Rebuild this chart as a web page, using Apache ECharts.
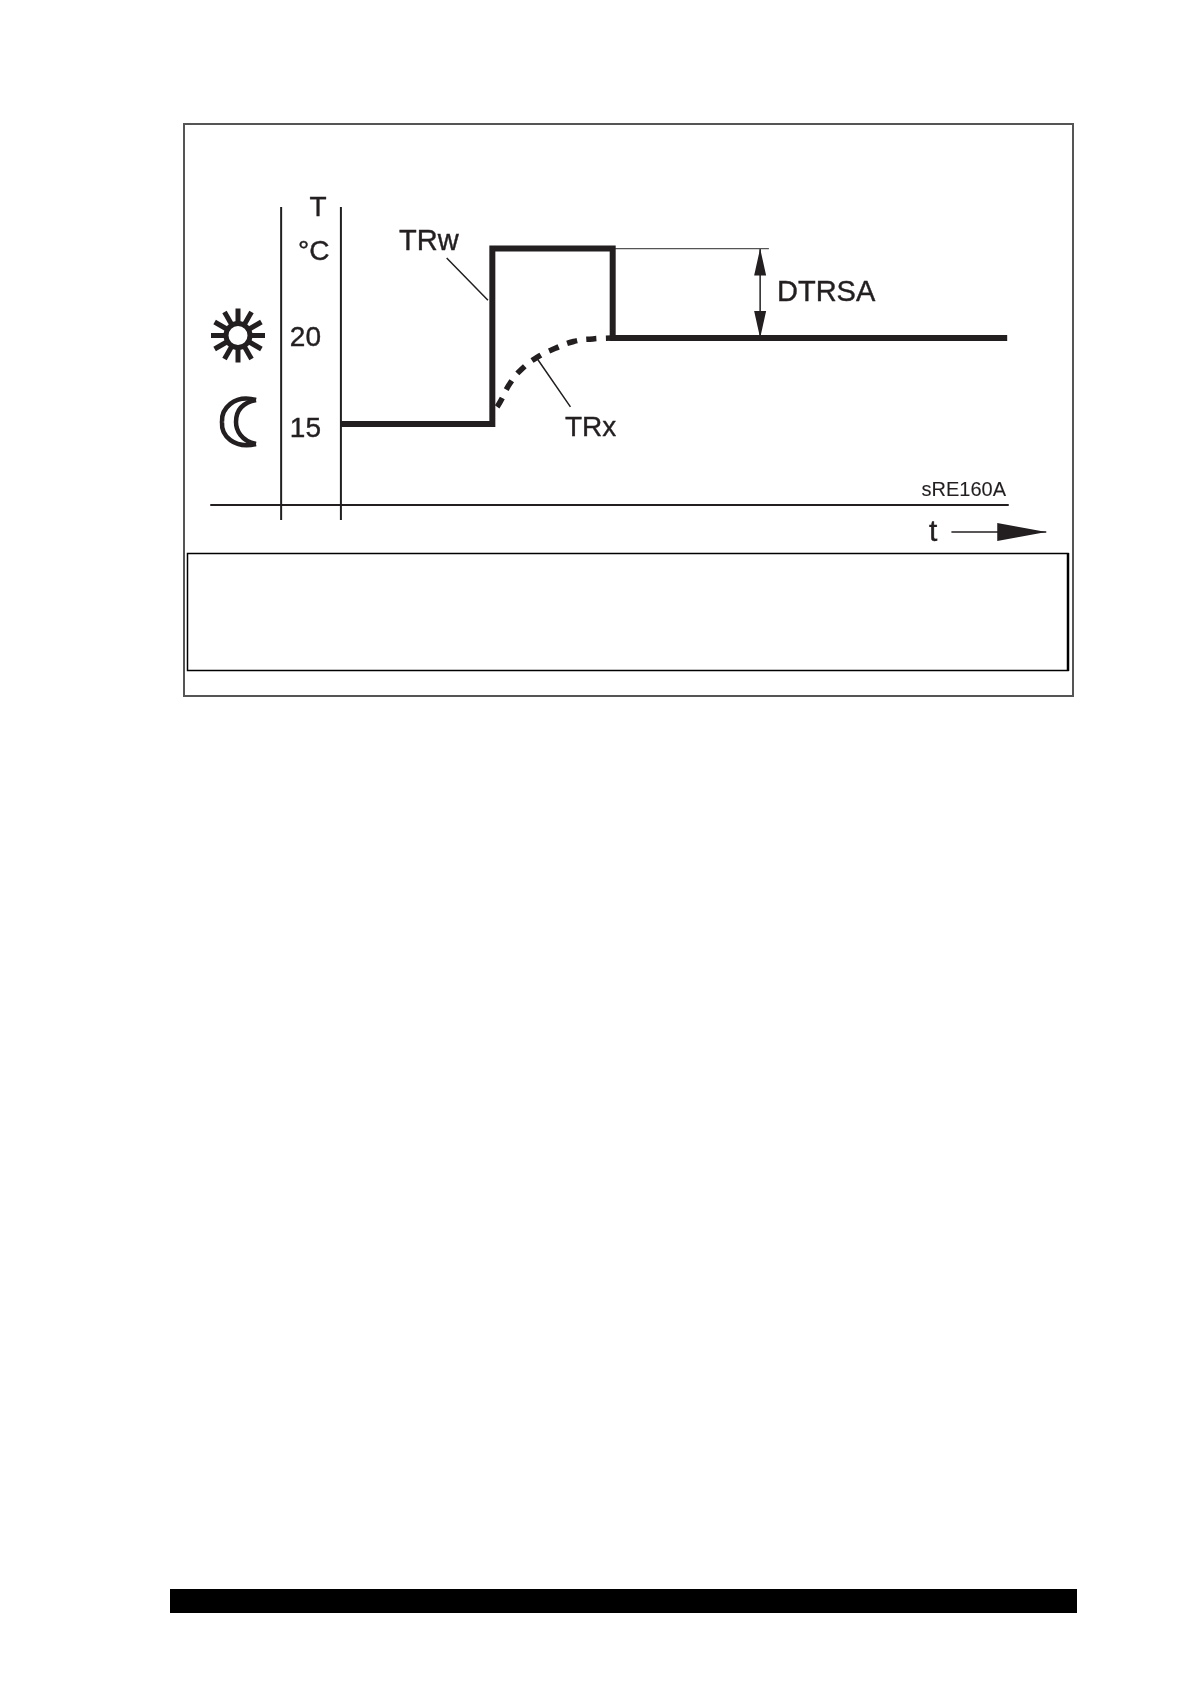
<!DOCTYPE html>
<html>
<head>
<meta charset="utf-8">
<title>sRE160A</title>
<style>
  html, body { margin: 0; padding: 0; background: #fff; }
  #main { width: 1190px; height: 1684px; }
</style>
<script src="https://cdn.jsdelivr.net/npm/echarts@6/dist/echarts.min.js"></script>
</head>
<body>
<div id="main"></div>
<script>
// tick labels on the temperature scale
const tempTicks = [15, 20];
// TRw setpoint profile [t, T]
const trwStep = [[16.3, 15], [35.3, 15], [35.3, 25.2], [50.4, 25.2], [50.4, 20], [99.9, 20]];
// TRx room temperature, dashed rise
const trxCurve = [[35.9, 16], [36.3, 16.3], [37.5, 17.35], [39, 18.2], [41, 18.9], [43.2, 19.4], [45.5, 19.8], [47.9, 19.95], [50.3, 20]];
// the two vertical rails either side of the scale
const rails = [[8.8, 27.62], [8.8, 9.42], [null, null], [16.3, 27.62], [16.3, 9.42]];
// thin line marking the top of the DTRSA span
const dtrsaGuide = [[50.4, 25.2], [70, 25.2]];
// leader lines TRw and TRx
const leaders = [[29.57, 24.65], [34.75, 22.2], [null, null], [40.87, 18.84], [45.1, 16]];
// arrows [x0, y0, x1, y1]
const dtrsaArrow = [68.9, 20, 68.9, 25.2];
const timeArrow = [92.9, 8.72, 104.8, 8.72];

const ink = '#231f20';
const font = 'Liberation Sans';

function headPoints(tip, from, len, half) {
  const dx = tip[0] - from[0];
  const dy = tip[1] - from[1];
  const d = Math.sqrt(dx * dx + dy * dy);
  const ux = dx / d;
  const uy = dy / d;
  const bx = tip[0] - ux * len;
  const by = tip[1] - uy * len;
  return [tip, [bx - uy * half, by + ux * half], [bx + uy * half, by - ux * half]];
}

function renderArrow(params, api) {
  const a = api.coord([api.value(0), api.value(1)]);
  const b = api.coord([api.value(2), api.value(3)]);
  const style = { fill: ink };
  const children = [{
    type: 'line',
    shape: { x1: a[0], y1: a[1], x2: b[0], y2: b[1] },
    style: { stroke: ink, lineWidth: 1.5 }
  }];
  if (params.dataIndex === 0) {
    // span arrow, heads both ends
    children.push({ type: 'polygon', shape: { points: headPoints(a, b, 27, 6) }, style: style });
    children.push({ type: 'polygon', shape: { points: headPoints(b, a, 27, 6) }, style: style });
  } else {
    children.push({ type: 'polygon', shape: { points: headPoints(b, a, 49, 9) }, style: style });
  }
  return { type: 'group', children: children };
}

function label(text, x, y, size, align, weight) {
  return {
    type: 'text',
    x: x,
    y: y,
    style: {
      text: text,
      fill: ink,
      stroke: ink,
      lineWidth: weight === undefined ? 0.4 : weight,
      font: size + 'px "' + font + '"',
      textAlign: align || 'left',
      textVerticalAlign: 'middle'
    }
  };
}

function moonCurve(x1, y1, cpx1, cpy1, cpx2, cpy2, x2, y2) {
  return {
    type: 'bezierCurve',
    shape: { x1: x1, y1: y1, cpx1: cpx1, cpy1: cpy1, cpx2: cpx2, cpy2: cpy2, x2: x2, y2: y2 },
    style: { fill: null, stroke: ink, lineWidth: 4.5 }
  };
}

// sun: ring and 12 rays
const sunRays = [];
for (let i = 0; i < 12; i++) {
  const r = i * Math.PI / 6;
  sunRays.push({
    type: 'line',
    shape: {
      x1: 238 + 13 * Math.cos(r), y1: 335.5 + 13 * Math.sin(r),
      x2: 238 + 27 * Math.cos(r), y2: 335.5 + 27 * Math.sin(r)
    },
    style: { stroke: ink, lineWidth: 5 }
  });
}

const labelStyle = { color: ink, fontFamily: font, fontSize: 28, textBorderColor: ink, textBorderWidth: 0.4 };

const chart = echarts.init(document.getElementById('main'), null, { renderer: 'canvas' });
chart.setOption({
  animation: false,
  backgroundColor: '#fff',
  grid: { left: 211, top: 207, width: 797, height: 298 },
  xAxis: {
    type: 'value',
    min: 0,
    max: 100,
    splitLine: { show: false },
    axisTick: { show: false },
    axisLabel: { show: false },
    axisLine: { show: true, lineStyle: { color: ink, width: 2 } }
  },
  yAxis: {
    type: 'value',
    min: 10.29,
    max: 27.62,
    position: 'left',
    offset: -130,
    splitLine: { show: false },
    axisTick: { show: false },
    axisLine: { show: false },
    axisLabel: {
      customValues: tempTicks,
      margin: 20,
      // 15 sits a little under its line in the original
      formatter: function (v) { return v === 15 ? '{low|15}' : '{high|' + v + '}'; },
      rich: {
        low: Object.assign({ padding: [11, 0, 0, 0] }, labelStyle),
        high: labelStyle
      }
    }
  },
  series: [
    {
      type: 'line', data: rails, symbol: 'none', clip: false, connectNulls: false,
      lineStyle: { color: ink, width: 2 }
    },
    {
      type: 'line', data: dtrsaGuide, symbol: 'none', clip: false,
      lineStyle: { color: '#555', width: 1.2 }
    },
    {
      type: 'line', data: leaders, symbol: 'none', clip: false, connectNulls: false,
      lineStyle: { color: ink, width: 1.5 }
    },
    {
      type: 'line', data: trxCurve, symbol: 'none', clip: false, smooth: true,
      lineStyle: { color: ink, width: 5.5, type: [10, 9.6] }
    },
    {
      type: 'line', data: trwStep, symbol: 'none', clip: false,
      lineStyle: { color: ink, width: 6, join: 'miter' }
    },
    {
      type: 'custom',
      data: [dtrsaArrow, timeArrow],
      encode: { x: [0, 2], y: [1, 3] },
      renderItem: renderArrow
    }
  ],
  graphic: [
    // outer frame and inner empty box
    { type: 'rect', shape: { x: 184, y: 124, width: 889, height: 572 }, style: { fill: null, stroke: '#555', lineWidth: 2 } },
    { type: 'rect', shape: { x: 187.5, y: 553.5, width: 880.5, height: 117 }, style: { fill: null, stroke: '#000', lineWidth: 1.5 } },
    { type: 'line', shape: { x1: 1068, y1: 553, x2: 1068, y2: 671 }, style: { stroke: '#000', lineWidth: 2.5 } },
    // black footer bar
    { type: 'rect', shape: { x: 170, y: 1589, width: 907, height: 24 }, style: { fill: '#000' } },
    // sun
    { type: 'group', children: sunRays },
    { type: 'circle', shape: { cx: 238, cy: 335.5, r: 12 }, style: { fill: '#fff', stroke: ink, lineWidth: 5 } },
    // moon
    {
      type: 'group',
      children: [
        moonCurve(256, 400, 234, 394, 221, 409, 222, 422),
        moonCurve(222, 422, 221, 436, 234, 449, 256, 444),
        moonCurve(256, 444, 241, 441, 236, 430, 236, 422),
        moonCurve(236, 422, 236, 411, 241, 403, 256, 400)
      ]
    },
    label('T', 318, 208, 28, 'center'),
    label('°C', 298, 252, 28),
    label('TRw', 399, 242, 29),
    label('TRx', 565, 428, 28),
    label('DTRSA', 777, 293, 29),
    label('sRE160A', 1006, 490, 20, 'right', 0.1),
    label('t', 929, 533, 30)
  ]
});
</script>
</body>
</html>
